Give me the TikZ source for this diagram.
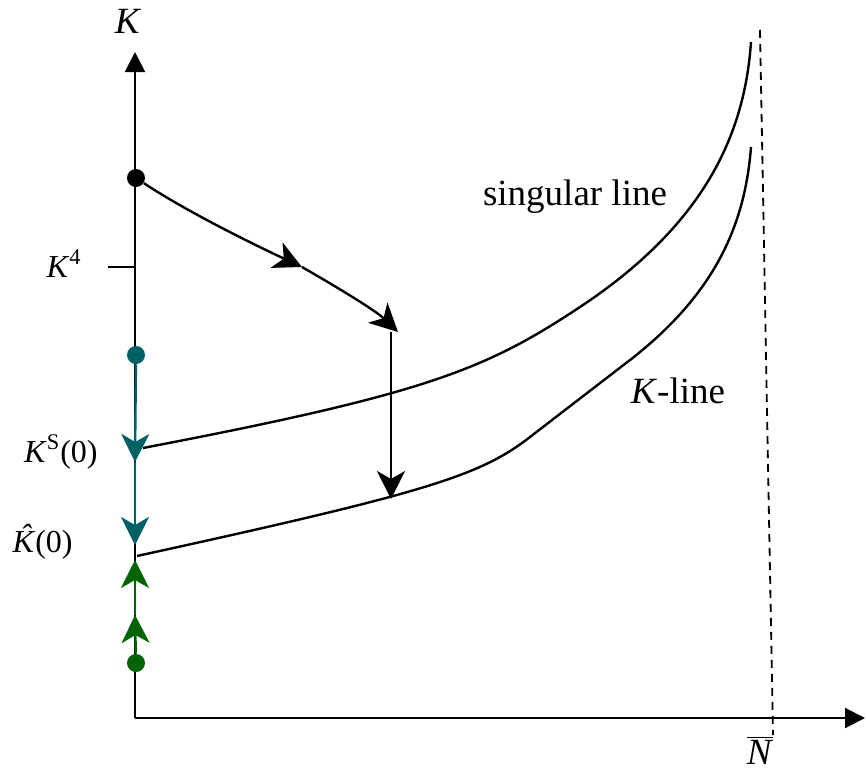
\documentclass[tikz,border=0pt]{standalone}
\usepackage{fontspec}
\setmainfont{Liberation Serif}
\usetikzlibrary{arrows.meta}
\definecolor{flowteal}{RGB}{0,96,100}
\definecolor{flowgreen}{RGB}{0,100,0}
\newcommand{\hatK}{\makebox[0pt][l]{\kern0.24em\raisebox{0.17em}{\char"02C6}}K}
\begin{document}
\begin{tikzpicture}[x=0.5pt,y=0.5pt,font=\fontsize{18.5}{22}\selectfont,
  axis/.style={line width=1pt,-{Triangle[length=10pt,width=10pt]}},
  curve/.style={line width=1.2pt},
  flow/.style={line width=1.2pt,-{Stealth[length=14pt,width=14pt,inset=4pt]}},
  dot/.style={circle,fill,inner sep=0pt,minimum size=9pt},
  lab/.style={inner sep=0pt},
  ticklab/.style={inner sep=0pt,anchor=base east,font=\fontsize{16}{19}\selectfont}]
\useasboundingbox (-135,-55) rectangle (732,718);
\coordinate (O) at (0,0);
\coordinate (Ktop) at (0,666);
\coordinate (Nend) at (730,0);
\draw[axis] (O) -- (Ktop);
\draw[axis] (O) -- (Nend);
\coordinate (k4) at (0,451);
\draw[line width=1pt] (k4) -- ++(-27,0);
\coordinate (ks) at (0,256);
\coordinate (kh) at (0,173);
\coordinate (g1) at (0,103);
\coordinate (g2) at (0,158);
\node[dot] (start) at (1,540) {};
\node[dot,flowteal] (tdot) at (1,363) {};
\node[dot,flowgreen] (gdot) at (1,55) {};
\draw[flow,flowteal] (tdot) -- (ks);
\draw[flow,flowteal] (ks) -- (kh);
\draw[flow,flowgreen] (gdot) -- (g1);
\draw[flow,flowgreen] (g1) -- (g2);
\draw[curve] (8,270) .. controls (290,324) and (350,348) .. (445,411)
  .. controls (575,497) and (610,590) .. (616,676);
\draw[curve] (2,162) .. controls (290,225) and (345,242) .. (395,281)
  -- (495,358) .. controls (580,424) and (610,493) .. (616,571);
\draw[line width=0.9pt,dash pattern=on 4pt off 3pt] (625,688) -- (638,-17);
\coordinate (p1) at (167,451);
\coordinate (p2) at (263,386);
\coordinate (q1) at (256,386);
\coordinate (q2) at (256,219);
\draw[flow] (start) .. controls (54,505) and (122,472) .. (p1);
\draw[flow] (p1) .. controls (200,432) and (240,408) .. (p2);
\draw[flow] (q1) -- (q2);
\node[lab,anchor=base] (Klab) at (-7,684) {\textit{K}};
\node[ticklab] (K4lab) at (-53,441) {\textit{K}\textsuperscript{4}};
\node[ticklab] (KSlab) at (-37,256) {\textit{K}\textsuperscript{S}(0)};
\node[ticklab] (Khlab) at (-62,166) {\textit{\hatK}(0)};
\node[lab,anchor=base] (Nlab) at (625,-46) {$\overline{\mbox{\textit{N}}}$};
\node[lab,anchor=base] (slab) at (440,513) {singular line};
\node[lab,anchor=base] (klab) at (543,315) {\textit{K}-line};
\end{tikzpicture}
\end{document}
